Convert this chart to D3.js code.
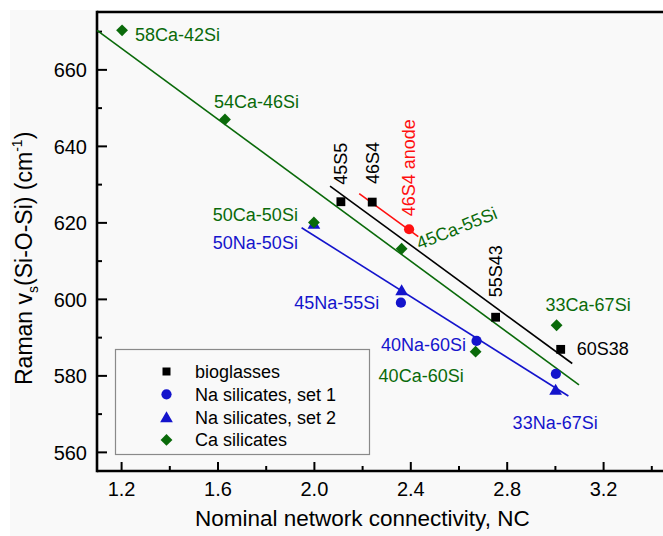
<!DOCTYPE html>
<html>
<head>
<meta charset="utf-8">
<script src="https://cdn.jsdelivr.net/npm/d3@7"></script>
<style>
  html, body { margin: 0; padding: 0; background: #ffffff; }
  svg { display: block; font-family: "Liberation Sans", Arial, sans-serif; }
</style>
</head>
<body>
<svg id="chart" width="663" height="536"></svg>
<script>
// ---------------- data ----------------
const bioNames = ["45S5", "46S4", "55S43", "60S38"];
const bioNC    = [2.112, 2.242, 2.754, 3.024];
const bioRaman = [625.4, 625.3, 595.2, 586.8];

const anodeNames = ["46S4 anode"];
const anodeNC    = [2.395];
const anodeRaman = [618.2];

const na1Names = ["45Na-55Si", "40Na-60Si", ""];
const na1NC    = [2.361, 2.675, 3.004];
const na1Raman = [599.0, 589.0, 580.4];

const na2Names = ["50Na-50Si", "", "33Na-67Si"];
const na2NC    = [2.0, 2.364, 3.003];
const na2Raman = [619.7, 602.3, 576.3];

const caNames = ["58Ca-42Si", "54Ca-46Si", "50Ca-50Si", "45Ca-55Si", "40Ca-60Si", "33Ca-67Si"];
const caNC    = [1.204, 1.631, 2.0, 2.364, 2.671, 3.007];
const caRaman = [670.2, 646.9, 620.0, 613.1, 586.2, 593.1];

// linear fits (end points)
const fitCaNC    = [1.10, 3.10];  const fitCaRaman    = [670.2, 577.5];
const fitBioNC   = [2.067, 3.072]; const fitBioRaman  = [629.5, 583.1];
const fitAnodeNC = [2.188, 2.433]; const fitAnodeRaman = [627.5, 616.3];
const fitNaNC    = [1.949, 3.056]; const fitNaRaman   = [618.6, 574.6];

const xMajorTicks = [1.2, 1.6, 2.0, 2.4, 2.8, 3.2];
const xMinorTicks = [1.4, 1.8, 2.2, 2.6, 3.0, 3.4];
const yMajorTicks = [560, 580, 600, 620, 640, 660];
const yMinorTicks = [570, 590, 610, 630, 650, 670];

const legendLabels = ["bioglasses", "Na silicates, set 1", "Na silicates, set 2", "Ca silicates"];

// ---------------- styling / layout ----------------
const C = { black: "#000000", blue: "#1414cc", green: "#0a6a0a", red: "#ff1010" };
const FONT = "'Liberation Sans', Arial, sans-serif";

const svg = d3.select("#chart");
svg.append("rect").attr("x", 10).attr("y", 10).attr("width", 653).attr("height", 526).attr("fill", "#f9f9f9");

const x = d3.scaleLinear().domain([1.1, 3.5]).range([97, 97 + 2.4 * 241]);
const y = d3.scaleLinear().domain([555, 675]).range([471, 12]);

const zip = (names, xs, ys) => xs.map((v, i) => ({ name: names[i], x: v, y: ys[i] }));
const bio = zip(bioNames, bioNC, bioRaman);
const anode = zip(anodeNames, anodeNC, anodeRaman);
const na1 = zip(na1Names, na1NC, na1Raman);
const na2 = zip(na2Names, na2NC, na2Raman);
const ca = zip(caNames, caNC, caRaman);

// ---- axes ----
const axisFont = 20;
const gy = svg.append("g").attr("transform", `translate(${x.range()[0]},0)`)
  .call(d3.axisLeft(y).tickValues(yMajorTicks).tickFormat(d3.format("d")).tickSize(-10).tickSizeOuter(0).tickPadding(10));
const gyMinor = svg.append("g").attr("transform", `translate(${x.range()[0]},0)`)
  .call(d3.axisLeft(y).tickValues(yMinorTicks).tickFormat("").tickSize(-5).tickSizeOuter(0));
const gx = svg.append("g").attr("transform", `translate(0,${y.range()[0]})`)
  .call(d3.axisBottom(x).tickValues(xMajorTicks).tickFormat(d3.format(".1f")).tickSize(-9).tickSizeOuter(0).tickPadding(11));
const gxMinor = svg.append("g").attr("transform", `translate(0,${y.range()[0]})`)
  .call(d3.axisBottom(x).tickValues(xMinorTicks).tickFormat("").tickSize(-5).tickSizeOuter(0));
[gy, gyMinor, gx, gxMinor].forEach(g => {
  g.select(".domain").remove();
  g.selectAll(".tick line").attr("stroke", "#000").attr("stroke-width", 2);
  g.selectAll(".tick text").attr("font-size", axisFont).attr("font-family", FONT).attr("fill", "#000");
});
gy.selectAll(".tick text").attr("dy", "0.36em");

// frame lines (left, bottom, top)
const frame = svg.append("g").attr("stroke", "#000").attr("stroke-width", 2.6).attr("fill", "none");
frame.append("line").attr("x1", x(1.1)).attr("x2", x(1.1)).attr("y1", y(675) - 1.3).attr("y2", y(555) + 1.3);
frame.append("line").attr("x1", x(1.1)).attr("x2", 663).attr("y1", y(555)).attr("y2", y(555));
frame.append("line").attr("x1", x(1.1)).attr("x2", 663).attr("y1", y(675)).attr("y2", y(675));

// axis titles
svg.append("text").attr("x", 195).attr("y", 526).attr("font-size", 22.5).attr("fill", "#000")
  .text("Nominal network connectivity, NC");
const yt = svg.append("text").attr("transform", "translate(32,385) rotate(-90)")
  .attr("font-size", 23).attr("fill", "#000");
yt.append("tspan").text("Raman v");
yt.append("tspan").attr("font-size", 14).attr("dy", 6).text("s");
yt.append("tspan").attr("dy", -6).text("(Si-O-Si) (cm");
yt.append("tspan").attr("font-size", 14).attr("dy", -10).text("-1");
yt.append("tspan").attr("dy", 10).text(")");

// ---- fit lines ----
const fitLine = (xs, ys, col) => svg.append("line")
  .attr("x1", x(xs[0])).attr("y1", y(ys[0])).attr("x2", x(xs[1])).attr("y2", y(ys[1]))
  .attr("stroke", col).attr("stroke-width", 1.6);
fitLine(fitCaNC, fitCaRaman, C.green);
fitLine(fitNaNC, fitNaRaman, C.blue);
fitLine(fitBioNC, fitBioRaman, C.black);
fitLine(fitAnodeNC, fitAnodeRaman, C.red);

// ---- markers ----
const sym = {
  square: d3.symbol().type(d3.symbolSquare).size(78),
  circle: d3.symbol().type(d3.symbolCircle).size(82),
  triangle: d3.symbol().type(d3.symbolTriangle).size(70),
  diamond: d3.symbol().type(d3.symbolSquare).size(70)
};
function drawMarkers(data, shape, col) {
  svg.append("g").selectAll("path").data(data).join("path")
    .attr("d", sym[shape])
    .attr("transform", d => `translate(${x(d.x)},${y(d.y)})` + (shape === "diamond" ? " rotate(45)" : "") + (shape === "triangle" ? " translate(0,1.5)" : ""))
    .attr("fill", col);
}
drawMarkers(na2, "triangle", C.blue);
drawMarkers(ca, "diamond", C.green);
drawMarkers(na1, "circle", C.blue);
drawMarkers(bio, "square", C.black);
drawMarkers(anode, "circle", C.red);

// ---- point labels ----
const labelSize = 18;
function labels(data, col, offsets) {
  data.forEach((d, i) => {
    const o = offsets[i];
    if (!d.name || !o) return;
    const px = x(d.x) + o.dx, py = y(d.y) + o.dy;
    svg.append("text")
      .attr("transform", `translate(${px},${py})` + (o.rot ? ` rotate(${o.rot})` : ""))
      .attr("text-anchor", o.anchor || "start")
      .attr("font-size", labelSize).attr("fill", col).text(d.name);
  });
}
labels(ca, C.green, [
  { dx: 13, dy: 11 }, { dx: -11, dy: -11.5 }, { dx: -16, dy: -1, anchor: "end" },
  { dx: 18, dy: 1, rot: -22 }, { dx: -97, dy: 30 }, { dx: -11, dy: -14 }
]);
labels(bio, C.black, [
  { dx: 6, dy: -17, rot: -90 }, { dx: 7, dy: -18, rot: -90 }, { dx: 6, dy: -20, rot: -90 }, { dx: 16, dy: 6 }
]);
labels(anode, C.red, [{ dx: 6, dy: -13, rot: -90 }]);
labels(na1, C.blue, [{ dx: -21.6, dy: 6, anchor: "end" }, { dx: -10.6, dy: 10, anchor: "end" }]);
labels(na2, C.blue, [{ dx: -16, dy: 25, anchor: "end" }, null, { dx: -43, dy: 39 }]);

// ---- legend ----
const lg = svg.append("g");
lg.append("rect").attr("x", 115.5).attr("y", 349.5).attr("width", 254).attr("height", 105)
  .attr("fill", "#f9f9f9").attr("stroke", "#8a8a8a").attr("stroke-width", 1.2);
const legendShapes = ["square", "circle", "triangle", "diamond"];
const legendColors = [C.black, C.blue, C.blue, C.green];
legendLabels.forEach((t, i) => {
  const cy = 371.5 + i * 22.8;
  const shape = legendShapes[i];
  const s = shape === "square" ? d3.symbol().type(d3.symbolSquare).size(64) : sym[shape];
  lg.append("path").attr("d", s)
    .attr("transform", `translate(166.5,${cy})` + (shape === "diamond" ? " rotate(45)" : "") + (shape === "triangle" ? " translate(0,1.5)" : ""))
    .attr("fill", legendColors[i]);
  lg.append("text").attr("x", 195).attr("y", cy + 6.5).attr("font-size", 18).attr("fill", "#000").text(t);
});
</script>
</body>
</html>
